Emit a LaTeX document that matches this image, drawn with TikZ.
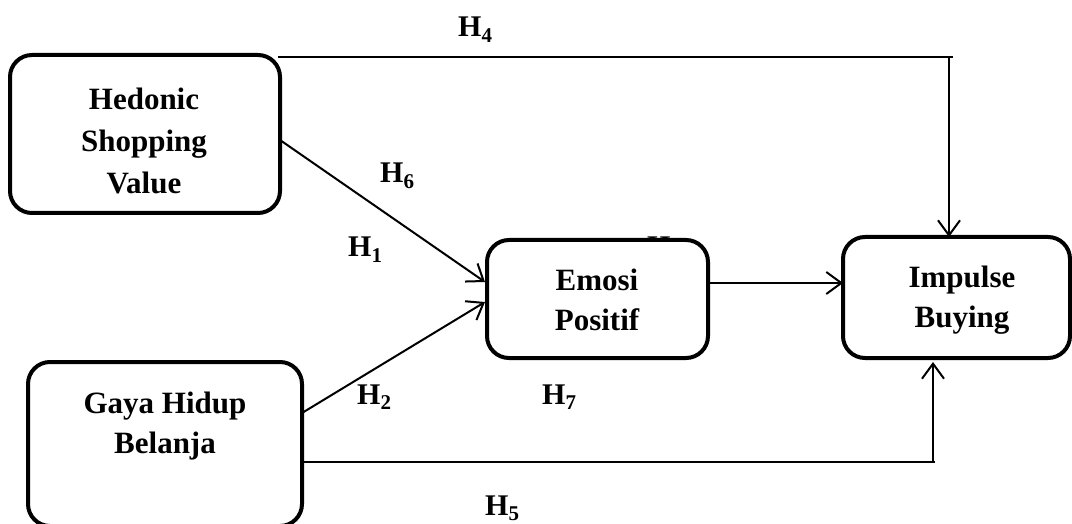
\documentclass[tikz,border=0pt]{standalone}
\usepackage{fontspec}
\setmainfont{Liberation Serif}
\usetikzlibrary{arrows.meta}
\begin{document}
\begin{tikzpicture}[x=1pt,y=-1pt,
  box/.style={draw=black,line width=4pt,rounded corners=22pt,fill=white,inner sep=0pt},
  txt/.style={font=\fontsize{31}{40}\selectfont\bfseries,align=center,inner sep=0pt},
  hlab/.style={font=\fontsize{30}{34}\selectfont\bfseries,anchor=base west,inner sep=0pt},
  conn/.style={draw=black,line width=2pt},
  arr/.style={conn,-{Straight Barb[length=15pt,width=22pt,line width=2pt]}}]
\useasboundingbox (0,0) rectangle (1072,524);
% hidden H3 label (behind Emosi box)
\node[hlab] (h3) at (647,257) {H\textsubscript{3}};
% boxes
\node[box,minimum width=270pt,minimum height=158pt] (hed) at (145,134) {};
\node[box,minimum width=274pt,minimum height=164pt] (gay) at (165,444) {};
\node[box,minimum width=221pt,minimum height=118pt] (emo) at (597.5,299) {};
\node[box,minimum width=227pt,minimum height=121pt] (imp) at (956.5,297.5) {};
% box texts
\node[txt,font=\fontsize{31}{42}\selectfont\bfseries] (hedt) at (144,140.5) {Hedonic\\Shopping\\Value};
\node[txt] (gayt) at (165,426) {Gaya Hidup\\Belanja};
\node[txt] (emot) at (597,300) {Emosi\\Positif};
\node[txt] (impt) at (962,300) {Impulse\\Buying};
% coordinates
\coordinate (h4s) at (278,57);
\coordinate (h4e) at (953,57);
\coordinate (h4c) at (949,57);
\coordinate (h4t) at (949,237);
\coordinate (hedr) at (280,140);
\coordinate (emo1) at (485,282);
\coordinate (gayr) at (302,413);
\coordinate (emo2) at (485,302);
\coordinate (emor) at (708,283);
\coordinate (impl) at (843,283);
\coordinate (h5s) at (302,462);
\coordinate (h5e) at (935,462);
\coordinate (h5c) at (933,462);
\coordinate (h5t) at (933,362);
% connectors
\draw[conn] (h4s) -- (h4e);
\draw[arr] (h4c) -- (h4t);
\draw[arr] (hedr) -- (emo1);
\draw[arr] (gayr) -- (emo2);
\draw[arr] (emor) -- (impl);
\draw[conn] (h5s) -- (h5e);
\draw[arr] (h5c) -- (h5t);
% labels
\node[hlab] (h4) at (458,37) {H\textsubscript{4}};
\node[hlab] (h6) at (380,183) {H\textsubscript{6}};
\node[hlab] (h1) at (348,257) {H\textsubscript{1}};
\node[hlab] (h2) at (357,404) {H\textsubscript{2}};
\node[hlab] (h7) at (542,404) {H\textsubscript{7}};
\node[hlab] (h5) at (485,515) {H\textsubscript{5}};
\end{tikzpicture}
\end{document}
